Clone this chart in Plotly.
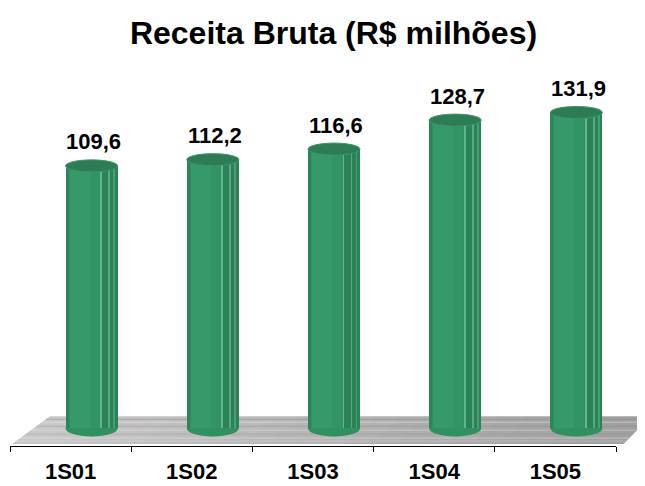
import plotly.graph_objects as go

# ---- data ----
categories = ["1S01", "1S02", "1S03", "1S04", "1S05"]
values = [109.6, 112.2, 116.6, 128.7, 131.9]
title_text = "Receita Bruta (R$ milhões)"

# ---- layout geometry (page pixels; page body has an 8px margin) ----
D = 8
W, H = 645 - D, 486 - D
L, R_EDGE = 10 - D, 616 - D          # plot area x extent
TOP, BOT = 60 - D, 450 - D           # plot area y extent
CAT_PX = (R_EDGE - L) / len(categories)
ZERO_PX = 432.2 - D
PX_PER_UNIT = 2.42
y_lo = -(BOT - ZERO_PX) / PX_PER_UNIT
y_hi = (ZERO_PX - TOP) / PX_PER_UNIT

def u(px):  # pixel distance -> category units
    return px / CAT_PX

SHIFT = 21    # bar centre shift (3D depth)
BW = 52       # bar width in px
left_edge = SHIFT - BW / 2

FONT = "Arial, Liberation Sans, sans-serif"
x_idx = list(range(len(categories)))

fig = go.Figure()

def add_bar(off_px, w_px, color):
    fig.add_trace(go.Bar(
        x=categories, y=values,
        offset=u(off_px), width=u(w_px),
        marker=dict(color=color, line=dict(width=0)),
        hoverinfo="skip", showlegend=False,
    ))

# cylinder body with stripes for shading
add_bar(left_edge, BW, "#30905F")
add_bar(left_edge, 3, "#2C8558")
add_bar(left_edge + 4, 20, "#36996A")
add_bar(left_edge + 24, 10, "#329463")
add_bar(left_edge + 36, 16, "#2C8157")
add_bar(left_edge + 35, 1, "#5DB88A")
add_bar(left_edge + 43, 1, "#52AA7E")
add_bar(left_edge + 48, 1, "#4A9E74")

shapes = []
# floor (gradient slices) in paper coordinates
def px_x(px):
    return (px - D - L) / (R_EDGE - L)
def px_y(py):
    return (BOT - (py - D)) / (BOT - TOP)

n = 24
for i in range(n):
    t0, t1 = i / n, (i + 1) / n
    b0, b1 = 12 + 611 * t0, 12 + 611 * t1
    a0, a1 = 50 + 600 * t0, 50 + 600 * t1
    g = int(0xC8 - (0xC8 - 0xA0) * (i / (n - 1)))
    col = f"rgb({g},{g},{g})"
    path = (f"M {px_x(b0)},{px_y(448)} L {px_x(b1 + 0.6)},{px_y(448)} "
            f"L {px_x(a1 + 0.6)},{px_y(420)} L {px_x(a0)},{px_y(420)} Z")
    shapes.append(dict(type="path", path=path, xref="paper", yref="paper",
                       fillcolor=col, line=dict(width=0), layer="below"))
# subtle streaks
for yy, c in [(423, "rgba(120,120,120,0.35)"), (426, "rgba(255,255,255,0.35)"),
              (430, "rgba(110,110,110,0.25)"), (434, "rgba(255,255,255,0.3)"),
              (438, "rgba(120,120,120,0.2)"), (442, "rgba(255,255,255,0.35)"),
              (445, "rgba(255,255,255,0.25)")]:
    frac = (448 - yy) / 28
    xa = 12 + 38 * frac
    xb = 623 + 27 * frac
    shapes.append(dict(type="line", xref="paper", yref="paper",
                       x0=px_x(xa), x1=px_x(xb), y0=px_y(yy), y1=px_y(yy),
                       line=dict(color=c, width=1), layer="below"))

# cylinder bottom and top caps, anchored to data
for i, v in zip(x_idx, values):
    shapes.append(dict(type="circle", xref="x", yref="y",
                       xsizemode="pixel", ysizemode="pixel",
                       xanchor=i + u(SHIFT), yanchor=0,
                       x0=-BW / 2, x1=BW / 2, y0=-8, y1=8,
                       fillcolor="#30905F", line=dict(width=0), layer="below"))
    shapes.append(dict(type="circle", xref="x", yref="y",
                       xsizemode="pixel", ysizemode="pixel",
                       xanchor=i + u(SHIFT), yanchor=v,
                       x0=-BW / 2, x1=BW / 2, y0=-6, y1=6,
                       fillcolor="#2D7C55",
                       line=dict(width=1, color="#3A9668"), layer="above"))

annotations = []
for i, v in zip(x_idx, values):
    annotations.append(dict(
        x=i + u(SHIFT + 2), y=v, xref="x", yref="y",
        text=f"{v:.1f}".replace(".", ","), showarrow=False,
        yshift=24, yanchor="middle",
        font=dict(family=FONT, size=22, color="black", weight="bold"),
    ))

fig.update_layout(
    width=W, height=H,
    margin=dict(l=L, r=W - R_EDGE, t=TOP, b=H - BOT, pad=0),
    paper_bgcolor="white", plot_bgcolor="white",
    barmode="overlay", bargap=0,
    showlegend=False,
    title=dict(text=title_text, x=(333.5 - D) / W, xref="container", xanchor="center",
               y=1 - (33 - D) / H, yref="container", yanchor="middle",
               font=dict(family=FONT, size=32, color="black", weight="bold")),
    shapes=shapes, annotations=annotations,
    xaxis=dict(type="category", categoryorder="array", categoryarray=categories,
               range=[-0.5, len(categories) - 0.5],
               showline=True, linecolor="black", linewidth=1,
               ticks="outside", tickson="boundaries", ticklen=5,
               tickcolor="black", tickwidth=1,
               ticklabelstandoff=6,
               showgrid=False, zeroline=False,
               tickfont=dict(family=FONT, size=22, color="black", weight="bold")),
    yaxis=dict(range=[y_lo, y_hi], visible=False, showgrid=False, zeroline=False),
)

fig.write_html("out.html")
